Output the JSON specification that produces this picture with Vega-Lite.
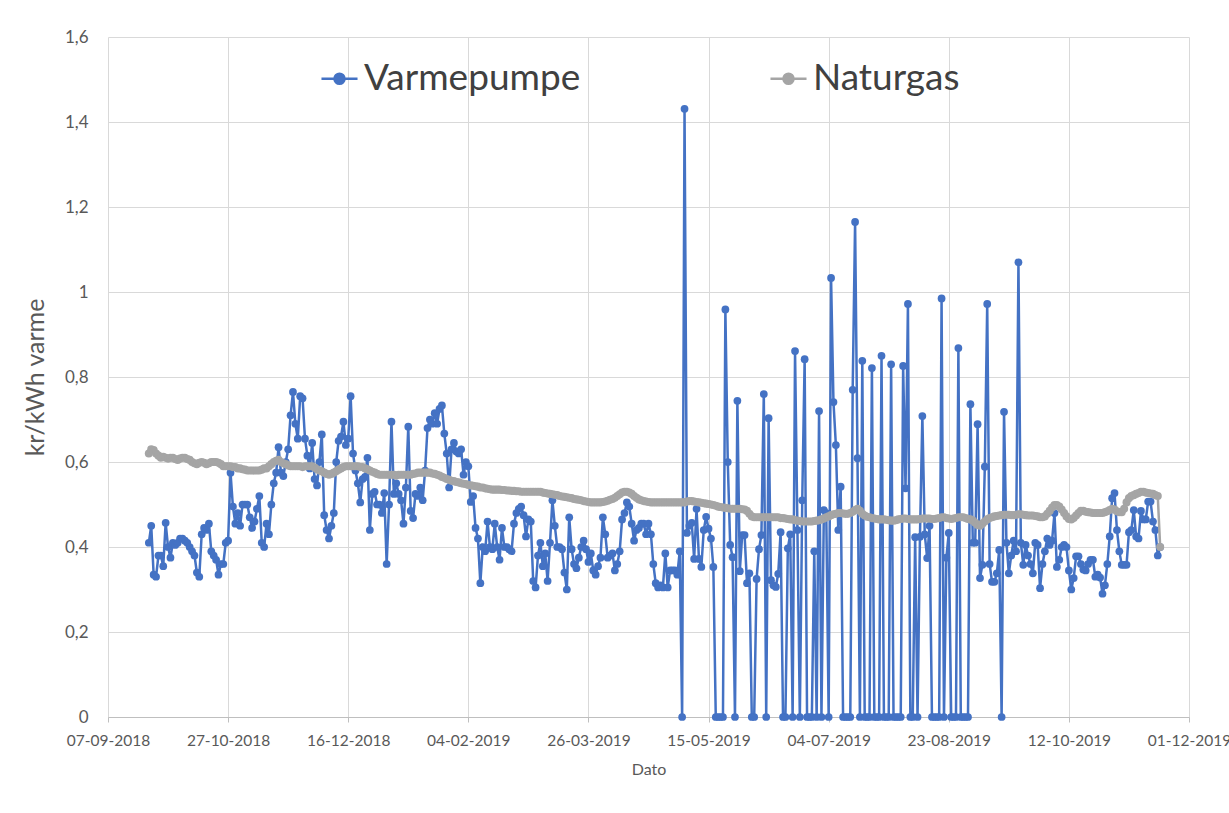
{
"$schema":"https://vega.github.io/schema/vega-lite/v6.json",
"width":1081,"height":680,
"autosize":"none",
"padding":{"left":108,"top":37,"right":40,"bottom":96},
"background":"white",
"config":{"font":"Lato","view":{"stroke":null}},
"data":{"values":[
{"d":"2018-09-24","v":0.41,"g":0.62},{"d":"2018-09-25","v":0.45,"g":0.63},{"d":"2018-09-26","v":0.335,"g":0.628},{"d":"2018-09-27","v":0.33,"g":0.62},{"d":"2018-09-28","v":0.38,"g":0.615},{"d":"2018-09-29","v":0.38,"g":0.61},{"d":"2018-09-30","v":0.355,"g":0.612},
{"d":"2018-10-01","v":0.457,"g":0.61},{"d":"2018-10-02","v":0.40,"g":0.608},{"d":"2018-10-03","v":0.375,"g":0.61},{"d":"2018-10-04","v":0.41,"g":0.61},{"d":"2018-10-05","v":0.405,"g":0.607},{"d":"2018-10-06","v":0.41,"g":0.605},{"d":"2018-10-07","v":0.42,"g":0.608},{"d":"2018-10-08","v":0.42,"g":0.61},{"d":"2018-10-09","v":0.415,"g":0.61},{"d":"2018-10-10","v":0.41,"g":0.607},{"d":"2018-10-11","v":0.40,"g":0.605},{"d":"2018-10-12","v":0.39,"g":0.60},{"d":"2018-10-13","v":0.38,"g":0.597},{"d":"2018-10-14","v":0.34,"g":0.595},{"d":"2018-10-15","v":0.33,"g":0.598},{"d":"2018-10-16","v":0.43,"g":0.60},{"d":"2018-10-17","v":0.445,"g":0.598},{"d":"2018-10-18","v":0.44,"g":0.595},{"d":"2018-10-19","v":0.455,"g":0.597},{"d":"2018-10-20","v":0.39,"g":0.60},{"d":"2018-10-21","v":0.38,"g":0.60},{"d":"2018-10-22","v":0.37,"g":0.60},{"d":"2018-10-23","v":0.335,"g":0.598},{"d":"2018-10-24","v":0.36,"g":0.595},{"d":"2018-10-25","v":0.36,"g":0.59},{"d":"2018-10-26","v":0.41,"g":0.59},{"d":"2018-10-27","v":0.415,"g":0.59},{"d":"2018-10-28","v":0.575,"g":0.59},{"d":"2018-10-29","v":0.495,"g":0.588},{"d":"2018-10-30","v":0.455,"g":0.588},{"d":"2018-10-31","v":0.48,"g":0.585},
{"d":"2018-11-01","v":0.45,"g":0.585},{"d":"2018-11-02","v":0.50,"g":0.583},{"d":"2018-11-03","v":0.50,"g":0.582},{"d":"2018-11-04","v":0.50,"g":0.58},{"d":"2018-11-05","v":0.47,"g":0.58},{"d":"2018-11-06","v":0.445,"g":0.58},{"d":"2018-11-07","v":0.46,"g":0.58},{"d":"2018-11-08","v":0.49,"g":0.58},{"d":"2018-11-09","v":0.52,"g":0.58},{"d":"2018-11-10","v":0.41,"g":0.582},{"d":"2018-11-11","v":0.40,"g":0.585},{"d":"2018-11-12","v":0.455,"g":0.585},{"d":"2018-11-13","v":0.43,"g":0.59},{"d":"2018-11-14","v":0.50,"g":0.595},{"d":"2018-11-15","v":0.55,"g":0.60},{"d":"2018-11-16","v":0.575,"g":0.603},{"d":"2018-11-17","v":0.635,"g":0.605},{"d":"2018-11-18","v":0.575,"g":0.60},{"d":"2018-11-19","v":0.567,"g":0.597},{"d":"2018-11-20","v":0.60,"g":0.595},{"d":"2018-11-21","v":0.63,"g":0.592},{"d":"2018-11-22","v":0.71,"g":0.59},{"d":"2018-11-23","v":0.765,"g":0.59},{"d":"2018-11-24","v":0.69,"g":0.59},{"d":"2018-11-25","v":0.655,"g":0.59},{"d":"2018-11-26","v":0.755,"g":0.59},{"d":"2018-11-27","v":0.75,"g":0.588},{"d":"2018-11-28","v":0.655,"g":0.59},{"d":"2018-11-29","v":0.615,"g":0.59},{"d":"2018-11-30","v":0.585,"g":0.59},
{"d":"2018-12-01","v":0.645,"g":0.59},{"d":"2018-12-02","v":0.56,"g":0.587},{"d":"2018-12-03","v":0.545,"g":0.583},{"d":"2018-12-04","v":0.60,"g":0.58},{"d":"2018-12-05","v":0.665,"g":0.578},{"d":"2018-12-06","v":0.475,"g":0.575},{"d":"2018-12-07","v":0.44,"g":0.572},{"d":"2018-12-08","v":0.42,"g":0.57},{"d":"2018-12-09","v":0.45,"g":0.572},{"d":"2018-12-10","v":0.48,"g":0.575},{"d":"2018-12-11","v":0.60,"g":0.578},{"d":"2018-12-12","v":0.65,"g":0.582},{"d":"2018-12-13","v":0.66,"g":0.585},{"d":"2018-12-14","v":0.695,"g":0.588},{"d":"2018-12-15","v":0.64,"g":0.59},{"d":"2018-12-16","v":0.655,"g":0.59},{"d":"2018-12-17","v":0.755,"g":0.59},{"d":"2018-12-18","v":0.62,"g":0.59},{"d":"2018-12-19","v":0.58,"g":0.59},{"d":"2018-12-20","v":0.55,"g":0.59},{"d":"2018-12-21","v":0.505,"g":0.588},{"d":"2018-12-22","v":0.56,"g":0.588},{"d":"2018-12-23","v":0.565,"g":0.585},{"d":"2018-12-24","v":0.61,"g":0.583},{"d":"2018-12-25","v":0.44,"g":0.58},{"d":"2018-12-26","v":0.525,"g":0.577},{"d":"2018-12-27","v":0.53,"g":0.575},{"d":"2018-12-28","v":0.50,"g":0.572},{"d":"2018-12-29","v":0.50,"g":0.57},{"d":"2018-12-30","v":0.48,"g":0.57},{"d":"2018-12-31","v":0.527,"g":0.57},
{"d":"2019-01-01","v":0.36,"g":0.57},{"d":"2019-01-02","v":0.50,"g":0.57},{"d":"2019-01-03","v":0.695,"g":0.57},{"d":"2019-01-04","v":0.525,"g":0.57},{"d":"2019-01-05","v":0.55,"g":0.568},{"d":"2019-01-06","v":0.525,"g":0.57},{"d":"2019-01-07","v":0.51,"g":0.57},{"d":"2019-01-08","v":0.455,"g":0.57},{"d":"2019-01-09","v":0.54,"g":0.57},{"d":"2019-01-10","v":0.683,"g":0.57},{"d":"2019-01-11","v":0.485,"g":0.57},{"d":"2019-01-12","v":0.468,"g":0.572},{"d":"2019-01-13","v":0.525,"g":0.573},{"d":"2019-01-14","v":0.52,"g":0.575},{"d":"2019-01-15","v":0.54,"g":0.575},{"d":"2019-01-16","v":0.51,"g":0.575},{"d":"2019-01-17","v":0.58,"g":0.575},{"d":"2019-01-18","v":0.68,"g":0.575},{"d":"2019-01-19","v":0.70,"g":0.575},{"d":"2019-01-20","v":0.69,"g":0.573},{"d":"2019-01-21","v":0.715,"g":0.572},{"d":"2019-01-22","v":0.69,"g":0.57},{"d":"2019-01-23","v":0.725,"g":0.568},{"d":"2019-01-24","v":0.733,"g":0.565},{"d":"2019-01-25","v":0.667,"g":0.563},{"d":"2019-01-26","v":0.62,"g":0.56},{"d":"2019-01-27","v":0.54,"g":0.558},{"d":"2019-01-28","v":0.63,"g":0.556},{"d":"2019-01-29","v":0.645,"g":0.555},{"d":"2019-01-30","v":0.625,"g":0.553},{"d":"2019-01-31","v":0.62,"g":0.552},
{"d":"2019-02-01","v":0.63,"g":0.55},{"d":"2019-02-02","v":0.57,"g":0.549},{"d":"2019-02-03","v":0.60,"g":0.548},{"d":"2019-02-04","v":0.59,"g":0.546},{"d":"2019-02-05","v":0.506,"g":0.545},{"d":"2019-02-06","v":0.52,"g":0.544},{"d":"2019-02-07","v":0.445,"g":0.543},{"d":"2019-02-08","v":0.42,"g":0.542},{"d":"2019-02-09","v":0.315,"g":0.54},{"d":"2019-02-10","v":0.40,"g":0.54},{"d":"2019-02-11","v":0.39,"g":0.538},{"d":"2019-02-12","v":0.46,"g":0.537},{"d":"2019-02-13","v":0.40,"g":0.536},{"d":"2019-02-14","v":0.395,"g":0.535},{"d":"2019-02-15","v":0.455,"g":0.535},{"d":"2019-02-16","v":0.40,"g":0.535},{"d":"2019-02-17","v":0.37,"g":0.535},{"d":"2019-02-18","v":0.445,"g":0.534},{"d":"2019-02-19","v":0.40,"g":0.534},{"d":"2019-02-20","v":0.40,"g":0.533},{"d":"2019-02-21","v":0.395,"g":0.533},{"d":"2019-02-22","v":0.39,"g":0.532},{"d":"2019-02-23","v":0.455,"g":0.532},{"d":"2019-02-24","v":0.48,"g":0.531},{"d":"2019-02-25","v":0.49,"g":0.531},{"d":"2019-02-26","v":0.495,"g":0.53},{"d":"2019-02-27","v":0.475,"g":0.53},{"d":"2019-02-28","v":0.425,"g":0.53},
{"d":"2019-03-01","v":0.465,"g":0.53},{"d":"2019-03-02","v":0.46,"g":0.53},{"d":"2019-03-03","v":0.32,"g":0.53},{"d":"2019-03-04","v":0.305,"g":0.53},{"d":"2019-03-05","v":0.38,"g":0.53},{"d":"2019-03-06","v":0.41,"g":0.53},{"d":"2019-03-07","v":0.355,"g":0.528},{"d":"2019-03-08","v":0.385,"g":0.527},{"d":"2019-03-09","v":0.32,"g":0.526},{"d":"2019-03-10","v":0.41,"g":0.525},{"d":"2019-03-11","v":0.51,"g":0.524},{"d":"2019-03-12","v":0.45,"g":0.523},{"d":"2019-03-13","v":0.40,"g":0.522},{"d":"2019-03-14","v":0.40,"g":0.52},{"d":"2019-03-15","v":0.395,"g":0.519},{"d":"2019-03-16","v":0.34,"g":0.518},{"d":"2019-03-17","v":0.30,"g":0.517},{"d":"2019-03-18","v":0.47,"g":0.516},{"d":"2019-03-19","v":0.395,"g":0.515},{"d":"2019-03-20","v":0.36,"g":0.513},{"d":"2019-03-21","v":0.35,"g":0.512},{"d":"2019-03-22","v":0.375,"g":0.511},{"d":"2019-03-23","v":0.40,"g":0.51},{"d":"2019-03-24","v":0.415,"g":0.508},{"d":"2019-03-25","v":0.395,"g":0.507},{"d":"2019-03-26","v":0.365,"g":0.506},{"d":"2019-03-27","v":0.385,"g":0.505},{"d":"2019-03-28","v":0.345,"g":0.505},{"d":"2019-03-29","v":0.335,"g":0.505},{"d":"2019-03-30","v":0.355,"g":0.505},{"d":"2019-03-31","v":0.375,"g":0.505},
{"d":"2019-04-01","v":0.47,"g":0.506},{"d":"2019-04-02","v":0.43,"g":0.507},{"d":"2019-04-03","v":0.375,"g":0.509},{"d":"2019-04-04","v":0.38,"g":0.511},{"d":"2019-04-05","v":0.385,"g":0.513},{"d":"2019-04-06","v":0.345,"g":0.516},{"d":"2019-04-07","v":0.36,"g":0.52},{"d":"2019-04-08","v":0.39,"g":0.524},{"d":"2019-04-09","v":0.465,"g":0.528},{"d":"2019-04-10","v":0.48,"g":0.53},{"d":"2019-04-11","v":0.505,"g":0.53},{"d":"2019-04-12","v":0.495,"g":0.528},{"d":"2019-04-13","v":0.455,"g":0.525},{"d":"2019-04-14","v":0.415,"g":0.52},{"d":"2019-04-15","v":0.44,"g":0.516},{"d":"2019-04-16","v":0.445,"g":0.512},{"d":"2019-04-17","v":0.455,"g":0.51},{"d":"2019-04-18","v":0.455,"g":0.508},{"d":"2019-04-19","v":0.43,"g":0.507},{"d":"2019-04-20","v":0.455,"g":0.506},{"d":"2019-04-21","v":0.43,"g":0.505},{"d":"2019-04-22","v":0.36,"g":0.505},{"d":"2019-04-23","v":0.315,"g":0.505},{"d":"2019-04-24","v":0.305,"g":0.505},{"d":"2019-04-25","v":0.31,"g":0.505},{"d":"2019-04-26","v":0.305,"g":0.505},{"d":"2019-04-27","v":0.385,"g":0.505},{"d":"2019-04-28","v":0.305,"g":0.505},{"d":"2019-04-29","v":0.345,"g":0.505},{"d":"2019-04-30","v":0.345,"g":0.505},
{"d":"2019-05-01","v":0.345,"g":0.505},{"d":"2019-05-02","v":0.335,"g":0.505},{"d":"2019-05-03","v":0.39,"g":0.505},{"d":"2019-05-04","v":0,"g":0.505},{"d":"2019-05-05","v":1.431,"g":0.505},{"d":"2019-05-06","v":0.433,"g":0.507},{"d":"2019-05-07","v":0.45,"g":0.508},{"d":"2019-05-08","v":0.457,"g":0.508},{"d":"2019-05-09","v":0.372,"g":0.507},{"d":"2019-05-10","v":0.49,"g":0.506},{"d":"2019-05-11","v":0.372,"g":0.505},{"d":"2019-05-12","v":0.353,"g":0.504},{"d":"2019-05-13","v":0.44,"g":0.503},{"d":"2019-05-14","v":0.471,"g":0.502},{"d":"2019-05-15","v":0.443,"g":0.501},{"d":"2019-05-16","v":0.42,"g":0.50},{"d":"2019-05-17","v":0.353,"g":0.499},{"d":"2019-05-18","v":0,"g":0.497},{"d":"2019-05-19","v":0,"g":0.495},{"d":"2019-05-20","v":0,"g":0.494},{"d":"2019-05-21","v":0,"g":0.493},{"d":"2019-05-22","v":0.959,"g":0.492},{"d":"2019-05-23","v":0.60,"g":0.491},{"d":"2019-05-24","v":0.405,"g":0.49},{"d":"2019-05-25","v":0.376,"g":0.49},{"d":"2019-05-26","v":0,"g":0.49},{"d":"2019-05-27","v":0.744,"g":0.49},{"d":"2019-05-28","v":0.343,"g":0.49},{"d":"2019-05-29","v":0.428,"g":0.489},{"d":"2019-05-30","v":0.428,"g":0.488},{"d":"2019-05-31","v":0.315,"g":0.485},
{"d":"2019-06-01","v":0.338,"g":0.478},{"d":"2019-06-02","v":0,"g":0.472},{"d":"2019-06-03","v":0,"g":0.47},{"d":"2019-06-04","v":0.325,"g":0.47},{"d":"2019-06-05","v":0.395,"g":0.47},{"d":"2019-06-06","v":0.428,"g":0.47},{"d":"2019-06-07","v":0.76,"g":0.47},{"d":"2019-06-08","v":0,"g":0.47},{"d":"2019-06-09","v":0.703,"g":0.47},{"d":"2019-06-10","v":0.322,"g":0.47},{"d":"2019-06-11","v":0.31,"g":0.47},{"d":"2019-06-12","v":0.306,"g":0.47},{"d":"2019-06-13","v":0.337,"g":0.47},{"d":"2019-06-14","v":0.435,"g":0.468},{"d":"2019-06-15","v":0,"g":0.468},{"d":"2019-06-16","v":0,"g":0.467},{"d":"2019-06-17","v":0.397,"g":0.466},{"d":"2019-06-18","v":0.43,"g":0.465},{"d":"2019-06-19","v":0,"g":0.465},{"d":"2019-06-20","v":0.861,"g":0.463},{"d":"2019-06-21","v":0.44,"g":0.462},{"d":"2019-06-22","v":0,"g":0.461},{"d":"2019-06-23","v":0.51,"g":0.46},{"d":"2019-06-24","v":0.842,"g":0.46},{"d":"2019-06-25","v":0,"g":0.46},{"d":"2019-06-26","v":0,"g":0.46},{"d":"2019-06-27","v":0,"g":0.46},{"d":"2019-06-28","v":0.39,"g":0.461},{"d":"2019-06-29","v":0,"g":0.462},{"d":"2019-06-30","v":0.72,"g":0.463},
{"d":"2019-07-01","v":0,"g":0.465},{"d":"2019-07-02","v":0.487,"g":0.467},{"d":"2019-07-03","v":0.48,"g":0.47},{"d":"2019-07-04","v":0,"g":0.472},{"d":"2019-07-05","v":1.033,"g":0.475},{"d":"2019-07-06","v":0.741,"g":0.477},{"d":"2019-07-07","v":0.64,"g":0.478},{"d":"2019-07-08","v":0.44,"g":0.48},{"d":"2019-07-09","v":0.542,"g":0.48},{"d":"2019-07-10","v":0,"g":0.479},{"d":"2019-07-11","v":0,"g":0.478},{"d":"2019-07-12","v":0,"g":0.478},{"d":"2019-07-13","v":0,"g":0.48},{"d":"2019-07-14","v":0.77,"g":0.483},{"d":"2019-07-15","v":1.165,"g":0.487},{"d":"2019-07-16","v":0.609,"g":0.49},{"d":"2019-07-17","v":0,"g":0.485},{"d":"2019-07-18","v":0.838,"g":0.478},{"d":"2019-07-19","v":0,"g":0.474},{"d":"2019-07-20","v":0,"g":0.471},{"d":"2019-07-21","v":0,"g":0.47},{"d":"2019-07-22","v":0.821,"g":0.468},{"d":"2019-07-23","v":0,"g":0.467},{"d":"2019-07-24","v":0,"g":0.466},{"d":"2019-07-25","v":0,"g":0.465},{"d":"2019-07-26","v":0.85,"g":0.465},{"d":"2019-07-27","v":0,"g":0.465},{"d":"2019-07-28","v":0,"g":0.464},{"d":"2019-07-29","v":0,"g":0.463},{"d":"2019-07-30","v":0.83,"g":0.462},{"d":"2019-07-31","v":0,"g":0.462},
{"d":"2019-08-01","v":0,"g":0.463},{"d":"2019-08-02","v":0,"g":0.465},{"d":"2019-08-03","v":0,"g":0.466},{"d":"2019-08-04","v":0.826,"g":0.467},{"d":"2019-08-05","v":0.538,"g":0.467},{"d":"2019-08-06","v":0.972,"g":0.466},{"d":"2019-08-07","v":0,"g":0.465},{"d":"2019-08-08","v":0,"g":0.465},{"d":"2019-08-09","v":0.423,"g":0.465},{"d":"2019-08-10","v":0,"g":0.465},{"d":"2019-08-11","v":0.424,"g":0.466},{"d":"2019-08-12","v":0.708,"g":0.467},{"d":"2019-08-13","v":0.43,"g":0.467},{"d":"2019-08-14","v":0.374,"g":0.467},{"d":"2019-08-15","v":0.45,"g":0.467},{"d":"2019-08-16","v":0,"g":0.466},{"d":"2019-08-17","v":0,"g":0.466},{"d":"2019-08-18","v":0,"g":0.467},{"d":"2019-08-19","v":0,"g":0.468},{"d":"2019-08-20","v":0.985,"g":0.47},{"d":"2019-08-21","v":0,"g":0.47},{"d":"2019-08-22","v":0.375,"g":0.468},{"d":"2019-08-23","v":0.433,"g":0.467},{"d":"2019-08-24","v":0,"g":0.466},{"d":"2019-08-25","v":0,"g":0.467},{"d":"2019-08-26","v":0,"g":0.468},{"d":"2019-08-27","v":0.868,"g":0.47},{"d":"2019-08-28","v":0,"g":0.47},{"d":"2019-08-29","v":0,"g":0.47},{"d":"2019-08-30","v":0,"g":0.468},{"d":"2019-08-31","v":0,"g":0.466},
{"d":"2019-09-01","v":0.736,"g":0.465},{"d":"2019-09-02","v":0.41,"g":0.462},{"d":"2019-09-03","v":0.41,"g":0.457},{"d":"2019-09-04","v":0.689,"g":0.452},{"d":"2019-09-05","v":0.327,"g":0.45},{"d":"2019-09-06","v":0.358,"g":0.455},{"d":"2019-09-07","v":0.589,"g":0.46},{"d":"2019-09-08","v":0.972,"g":0.465},{"d":"2019-09-09","v":0.36,"g":0.468},{"d":"2019-09-10","v":0.318,"g":0.47},{"d":"2019-09-11","v":0.318,"g":0.472},{"d":"2019-09-12","v":0.338,"g":0.473},{"d":"2019-09-13","v":0.393,"g":0.474},{"d":"2019-09-14","v":0,"g":0.475},{"d":"2019-09-15","v":0.718,"g":0.476},{"d":"2019-09-16","v":0.41,"g":0.476},{"d":"2019-09-17","v":0.338,"g":0.476},{"d":"2019-09-18","v":0.38,"g":0.475},{"d":"2019-09-19","v":0.415,"g":0.475},{"d":"2019-09-20","v":0.39,"g":0.476},{"d":"2019-09-21","v":1.07,"g":0.477},{"d":"2019-09-22","v":0.41,"g":0.477},{"d":"2019-09-23","v":0.358,"g":0.476},{"d":"2019-09-24","v":0.405,"g":0.475},{"d":"2019-09-25","v":0.38,"g":0.474},{"d":"2019-09-26","v":0.36,"g":0.474},{"d":"2019-09-27","v":0.338,"g":0.474},{"d":"2019-09-28","v":0.41,"g":0.473},{"d":"2019-09-29","v":0.405,"g":0.472},{"d":"2019-09-30","v":0.303,"g":0.47},
{"d":"2019-10-01","v":0.36,"g":0.47},{"d":"2019-10-02","v":0.39,"g":0.472},{"d":"2019-10-03","v":0.42,"g":0.478},{"d":"2019-10-04","v":0.405,"g":0.485},{"d":"2019-10-05","v":0.415,"g":0.493},{"d":"2019-10-06","v":0.48,"g":0.499},{"d":"2019-10-07","v":0.353,"g":0.499},{"d":"2019-10-08","v":0.37,"g":0.495},{"d":"2019-10-09","v":0.40,"g":0.488},{"d":"2019-10-10","v":0.405,"g":0.48},{"d":"2019-10-11","v":0.40,"g":0.472},{"d":"2019-10-12","v":0.345,"g":0.466},{"d":"2019-10-13","v":0.30,"g":0.465},{"d":"2019-10-14","v":0.327,"g":0.468},{"d":"2019-10-15","v":0.378,"g":0.474},{"d":"2019-10-16","v":0.378,"g":0.48},{"d":"2019-10-17","v":0.36,"g":0.485},{"d":"2019-10-18","v":0.347,"g":0.485},{"d":"2019-10-19","v":0.345,"g":0.483},{"d":"2019-10-20","v":0.36,"g":0.482},{"d":"2019-10-21","v":0.37,"g":0.481},{"d":"2019-10-22","v":0.37,"g":0.48},{"d":"2019-10-23","v":0.33,"g":0.48},{"d":"2019-10-24","v":0.335,"g":0.48},{"d":"2019-10-25","v":0.328,"g":0.48},{"d":"2019-10-26","v":0.29,"g":0.48},{"d":"2019-10-27","v":0.31,"g":0.482},{"d":"2019-10-28","v":0.36,"g":0.484},{"d":"2019-10-29","v":0.425,"g":0.487},{"d":"2019-10-30","v":0.515,"g":0.49},{"d":"2019-10-31","v":0.527,"g":0.488},
{"d":"2019-11-01","v":0.44,"g":0.484},{"d":"2019-11-02","v":0.39,"g":0.482},{"d":"2019-11-03","v":0.358,"g":0.482},{"d":"2019-11-04","v":0.358,"g":0.49},{"d":"2019-11-05","v":0.358,"g":0.505},{"d":"2019-11-06","v":0.435,"g":0.515},{"d":"2019-11-07","v":0.44,"g":0.52},{"d":"2019-11-08","v":0.487,"g":0.522},{"d":"2019-11-09","v":0.425,"g":0.525},{"d":"2019-11-10","v":0.42,"g":0.527},{"d":"2019-11-11","v":0.485,"g":0.53},{"d":"2019-11-12","v":0.465,"g":0.53},{"d":"2019-11-13","v":0.465,"g":0.528},{"d":"2019-11-14","v":0.507,"g":0.527},{"d":"2019-11-15","v":0.507,"g":0.526},{"d":"2019-11-16","v":0.46,"g":0.525},{"d":"2019-11-17","v":0.44,"g":0.522},{"d":"2019-11-18","v":0.38,"g":0.52},{"d":"2019-11-19","v":0.40,"g":0.40}
]},
"encoding":{
 "x":{"field":"d","type":"temporal","title":"Dato",
  "scale":{"type":"utc","domain":[{"year":2018,"month":9,"date":7,"utc":true},{"year":2019,"month":12,"date":1,"utc":true}]},
  "axis":{"values":[{"year":2018,"month":9,"date":7,"utc":true},{"year":2018,"month":10,"date":27,"utc":true},{"year":2018,"month":12,"date":16,"utc":true},{"year":2019,"month":2,"date":4,"utc":true},{"year":2019,"month":3,"date":26,"utc":true},{"year":2019,"month":5,"date":15,"utc":true},{"year":2019,"month":7,"date":4,"utc":true},{"year":2019,"month":8,"date":23,"utc":true},{"year":2019,"month":10,"date":12,"utc":true},{"year":2019,"month":12,"date":1,"utc":true}],
   "labelExpr":"utcFormat(datum.value, '%d-%m-%Y')","labelFontSize":15.5,"labelColor":"#595959","labelFlush":false,"labelOverlap":false,"labelPadding":11,
   "grid":true,"gridColor":"#D9D9D9","gridWidth":1,"domainColor":"#BFBFBF","domainWidth":1,"tickColor":"#BFBFBF","tickSize":5,
   "titleFontSize":16,"titleFontWeight":"normal","titleColor":"#595959","titlePadding":13}}
},
"layer":[
 {"mark":{"type":"line","strokeWidth":2.5,"point":{"filled":true,"size":60}},
  "encoding":{
   "y":{"field":"v","type":"quantitative","title":"kr/kWh varme",
    "scale":{"domain":[0,1.6],"nice":false},
    "axis":{"values":[0,0.2,0.4,0.6,0.8,1,1.2,1.4,1.6],"labelExpr":"format(datum.value,'.1f')=='0.0' ? '0' : format(datum.value,'.1f')=='1.0' ? '1' : replace(format(datum.value,'.1f'),'.',',')","labelFontSize":17,"labelColor":"#595959","labelPadding":20,"ticks":false,"domain":false,"grid":true,"gridColor":"#D9D9D9","titleFontSize":25,"titleFontWeight":"normal","titleColor":"#595959","titlePadding":16}},
   "color":{"datum":"Varmepumpe","type":"nominal",
    "scale":{"domain":["Varmepumpe","Naturgas"],"range":["#4472C4","#A5A5A5"]},
    "legend":{"title":null,"orient":"none","legendX":212,"legendY":22,"direction":"horizontal","columnPadding":184,
     "symbolType":"M-1,0H1M0.28,0A0.28,0.28,0,1,1,-0.28,0A0.28,0.28,0,1,1,0.28,0Z","symbolSize":1300,"symbolStrokeWidth":2.5,
     "labelFontSize":37,"labelColor":"#404040","labelOffset":5,"labelLimit":400,
     "encode":{"symbols":{"update":{"fill":{"scale":"color","field":"value"},"stroke":{"scale":"color","field":"value"},"opacity":{"value":1}}}}}}
  }},
 {"mark":{"type":"line","strokeWidth":2.5,"point":{"filled":true,"size":65}},
  "encoding":{
   "y":{"field":"g","type":"quantitative","title":"kr/kWh varme",
    "scale":{"domain":[0,1.6],"nice":false},
    "axis":{"values":[0,0.2,0.4,0.6,0.8,1,1.2,1.4,1.6],"labelExpr":"format(datum.value,'.1f')=='0.0' ? '0' : format(datum.value,'.1f')=='1.0' ? '1' : replace(format(datum.value,'.1f'),'.',',')","labelFontSize":17,"labelColor":"#595959","labelPadding":20,"ticks":false,"domain":false,"grid":true,"gridColor":"#D9D9D9","titleFontSize":25,"titleFontWeight":"normal","titleColor":"#595959","titlePadding":16}},
   "color":{"datum":"Naturgas","type":"nominal"}
  }}
]
}
